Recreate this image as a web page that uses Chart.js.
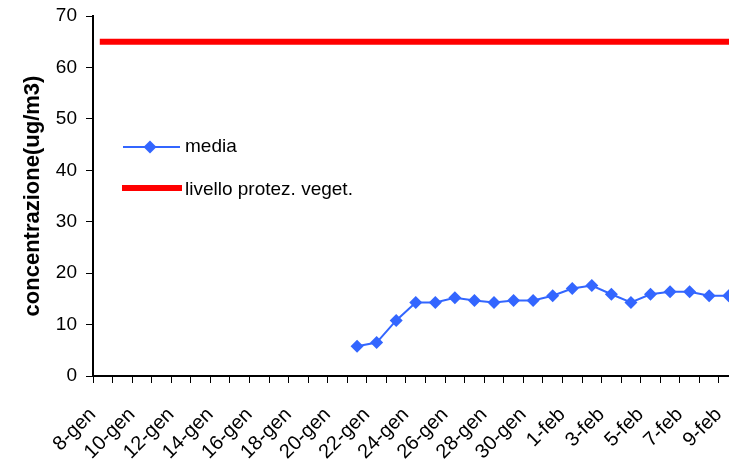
<!DOCTYPE html>
<html>
<head>
<meta charset="utf-8">
<script src="https://cdn.jsdelivr.net/npm/chart.js@4/dist/chart.umd.min.js"></script>
<style>
  html, body { margin: 0; padding: 0; background: #fff; overflow: hidden; }
  #wrap { position: relative; width: 745px; height: 461px; }
</style>
</head>
<body>
<div id="wrap"><canvas id="chart" width="745" height="461"></canvas></div>
<script>
// Days on the category axis
const labels = [
    '8-gen', '9-gen', '10-gen', '11-gen', '12-gen', '13-gen', '14-gen', '15-gen',
    '16-gen', '17-gen', '18-gen', '19-gen', '20-gen', '21-gen', '22-gen', '23-gen',
    '24-gen', '25-gen', '26-gen', '27-gen', '28-gen', '29-gen', '30-gen', '31-gen',
    '1-feb', '2-feb', '3-feb', '4-feb', '5-feb', '6-feb', '7-feb', '8-feb', '9-feb'
];

// Daily mean (ug/m3), no data before 21-gen
const media = [
    null, null, null, null, null, null, null, null,
    null, null, null, null, null, 5.8, 6.5, 10.8,
    14.3, 14.3, 15.2, 14.7, 14.3, 14.7, 14.7, 15.6,
    17.0, 17.6, 15.9, 14.3, 15.9, 16.4, 16.4, 15.6, 15.6
];

// Vegetation protection level
const livello = [
    65, 65, 65, 65, 65, 65, 65, 65, 65, 65, 65, 65, 65, 65, 65, 65, 65,
    65, 65, 65, 65, 65, 65, 65, 65, 65, 65, 65, 65, 65, 65, 65, 65
];

const yTicks = [0, 10, 20, 30, 40, 50, 60, 70];

const FONT = "'Liberation Sans', Arial, sans-serif";
const BLUE = '#3366ff';
const RED = '#ff0000';

// Legend drawn inside the plot area, like the original
const insideLegend = {
    id: 'insideLegend',
    afterDatasetsDraw(chart) {
        const ctx = chart.ctx;
        const a = chart.chartArea;
        const tx = a.left + 92;
        ctx.save();
        ctx.font = '19px ' + FONT;
        ctx.textBaseline = 'middle';

        // media
        let y = a.top + 131;
        ctx.strokeStyle = BLUE;
        ctx.lineWidth = 2;
        ctx.beginPath();
        ctx.moveTo(a.left + 30, y);
        ctx.lineTo(a.left + 87, y);
        ctx.stroke();
        ctx.fillStyle = BLUE;
        const cx = a.left + 57;
        ctx.beginPath();
        ctx.moveTo(cx, y - 6.5);
        ctx.lineTo(cx + 6.5, y);
        ctx.lineTo(cx, y + 6.5);
        ctx.lineTo(cx - 6.5, y);
        ctx.closePath();
        ctx.fill();
        ctx.fillStyle = '#000';
        ctx.fillText('media', tx, y);

        // livello
        y = a.top + 172;
        ctx.strokeStyle = RED;
        ctx.lineWidth = 6;
        ctx.beginPath();
        ctx.moveTo(a.left + 29, y);
        ctx.lineTo(a.left + 89, y);
        ctx.stroke();
        ctx.fillText('livello protez. veget.', tx, y + 2);
        ctx.restore();
    }
};

new Chart(document.getElementById('chart').getContext('2d'), {
    type: 'line',
    data: {
        labels: labels,
        datasets: [
            {
                label: 'media',
                data: media,
                borderColor: BLUE,
                backgroundColor: BLUE,
                borderWidth: 2,
                pointStyle: 'rectRot',
                pointRadius: 6.5,
                pointBorderWidth: 0,
                tension: 0,
                spanGaps: false
            },
            {
                label: 'livello protez. veget.',
                data: livello,
                borderColor: RED,
                backgroundColor: RED,
                borderWidth: 6,
                borderCapStyle: 'square',
                pointRadius: 0,
                tension: 0
            }
        ]
    },
    options: {
        responsive: false,
        animation: false,
        layout: { padding: { top: 16, right: 0, left: 0, bottom: 0 } },
        plugins: {
            legend: { display: false },
            tooltip: { enabled: false }
        },
        scales: {
            x: {
                offset: true,
                border: { color: '#000', width: 2 },
                grid: { display: true, drawOnChartArea: false, drawTicks: true, tickLength: 7, color: '#000', offset: true },
                ticks: {
                    autoSkip: false,
                    maxRotation: 45,
                    minRotation: 45,
                    labelOffset: -10,
                    padding: 20,
                    color: '#000',
                    font: { family: FONT, size: 20 },
                    callback: function(value, index) {
                        return index % 2 === 0 ? labels[index] : '';
                    }
                },
                afterFit: function(scale) {
                    scale.height = 85;
                    scale.paddingLeft = 0;
                    scale.paddingRight = 0;
                }
            },
            y: {
                min: 0,
                max: 70,
                border: { color: '#000', width: 2 },
                grid: { display: true, drawOnChartArea: false, drawTicks: true, tickLength: 7, color: '#000' },
                afterBuildTicks: function(scale) {
                    scale.ticks = yTicks.map(v => ({ value: v }));
                },
                ticks: {
                    padding: 9,
                    color: '#000',
                    font: { family: FONT, size: 19 }
                },
                title: {
                    display: true,
                    text: 'concentrazione(ug/m3)',
                    color: '#000',
                    font: { family: FONT, size: 22, weight: 'bold' },
                    padding: { top: 20, bottom: 0 }
                },
                afterFit: function(scale) {
                    scale.width = 93;
                    scale.paddingTop = 0;
                    scale.paddingBottom = 0;
                }
            }
        }
    },
    plugins: [insideLegend]
});
</script>
</body>
</html>
